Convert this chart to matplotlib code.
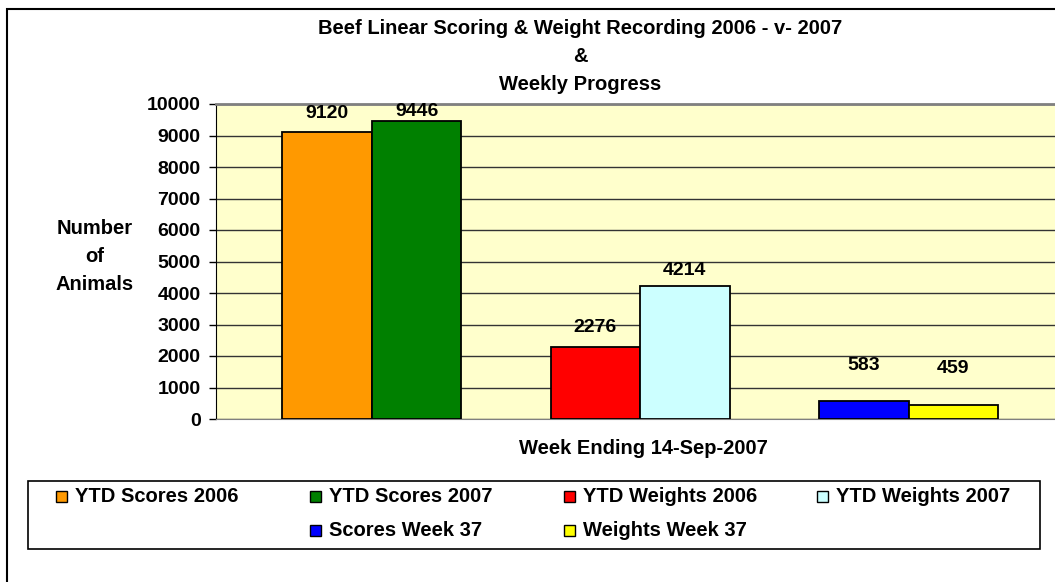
import numpy as np
import matplotlib.pyplot as plt
from matplotlib.patches import Rectangle

plt.rcParams['font.family'] = ['Liberation Sans', 'DejaVu Sans']
plt.rcParams['font.weight'] = 'bold'

series = ['YTD Scores 2006', 'YTD Scores 2007', 'YTD Weights 2006',
          'YTD Weights 2007', 'Scores Week 37', 'Weights Week 37']
values = [9120, 9446, 2276, 4214, 583, 459]
colors = ['#FF9900', '#008000', '#FF0000', '#CCFFFF', '#0000FF', '#FFFF00']
yticks = [0, 1000, 2000, 3000, 4000, 5000, 6000, 7000, 8000, 9000, 10000]

W, H = 1055, 582
fig = plt.figure(figsize=(W / 100, H / 100), dpi=100)
ax = fig.add_axes([216 / W, 1 - 419 / H, 1 - 216 / W, (419 - 104) / H])
ax.set_facecolor('#FFFFCC')

# two bars per group, three groups
bw = 1 / 3
xpos = []
for i in range(len(values)):
    g = i // 2
    xpos.append(g + (i % 2 - 0.5) * bw)
ax.bar(xpos, values, bw, color=colors, edgecolor='black', linewidth=1.3, zorder=3)

# label offsets above bar top, in points
offs = [13, 7, 14, 11, 25, 26]
for x, v, o in zip(xpos, values, offs):
    ax.annotate(str(v), (x, v), xytext=(0, o), textcoords='offset points',
                ha='center', va='center', fontsize=14, fontweight='bold', zorder=4)

ax.set_xlim(-0.581, 2.546)
ax.set_ylim(0, 10000)
ax.set_yticks(yticks)
ax.set_xticks([])
ax.yaxis.grid(True, color='#333333', linewidth=1, zorder=1)
ax.tick_params(axis='y', direction='out', length=5, width=1, color='black',
               labelsize=14, pad=6)
for lab in ax.get_yticklabels():
    lab.set_fontweight('bold')
ax.spines['left'].set_color('black')
ax.spines['bottom'].set_color('#808080')
ax.spines['top'].set_color('#808080')
ax.spines['top'].set_linewidth(2)
ax.spines['right'].set_visible(False)

# outer chart border
fig.add_artist(Rectangle((7 / W, -0.1), 1.2, 1 - 9 / H + 0.1, transform=fig.transFigure,
                         fill=False, edgecolor='black', linewidth=1.5))

title = ['Beef Linear Scoring & Weight Recording 2006 - v- 2007', '&', 'Weekly Progress']
for k, t in enumerate(title):
    fig.text(580 / W, 1 - (28 + 28.5 * k) / H, t, ha='center', va='center',
             fontsize=14.5, fontweight='bold')

for k, t in enumerate(['Number', 'of', 'Animals']):
    fig.text(95 / W, 1 - (229 + 28 * k) / H, t, ha='center', va='center',
             fontsize=14.5, fontweight='bold')

fig.text(643 / W, 1 - 449 / H, 'Week Ending 14-Sep-2007', ha='center', va='center',
         fontsize=14.5, fontweight='bold')

# legend
fig.add_artist(Rectangle((28 / W, 1 - 549 / H), (1040 - 28) / W, (549 - 481) / H,
                         transform=fig.transFigure, fill=False, edgecolor='black',
                         linewidth=1.2))
leg_x = [56, 310, 564, 817, 310, 564]
leg_y = [496, 496, 496, 496, 530, 530]
for s, c, lx, ly in zip(series, colors, leg_x, leg_y):
    fig.add_artist(Rectangle((lx / W, 1 - (ly + 6) / H), 11 / W, 11 / H,
                             transform=fig.transFigure, facecolor=c,
                             edgecolor='black', linewidth=1))
    fig.text((lx + 19) / W, 1 - ly / H, s, ha='left', va='center',
             fontsize=14.5, fontweight='bold')

fig.savefig('out.png', dpi=100)
